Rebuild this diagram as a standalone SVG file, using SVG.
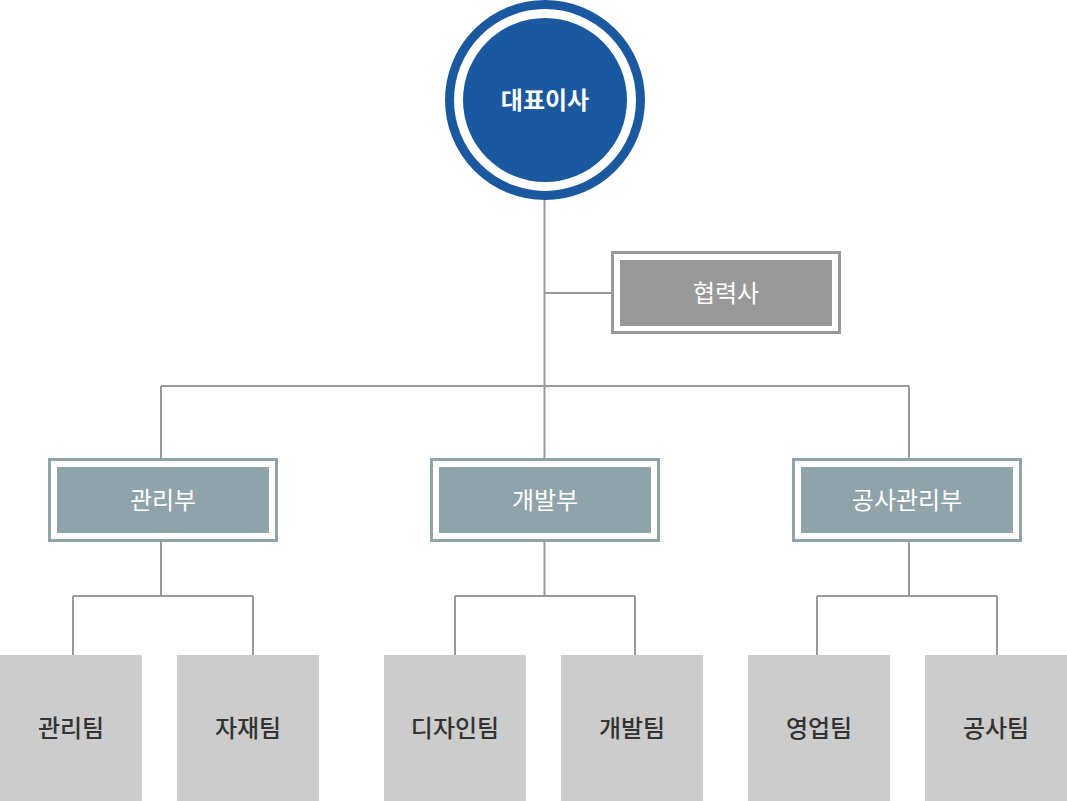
<svg xmlns="http://www.w3.org/2000/svg" width="1067" height="801" viewBox="0 0 1067 801">
<style>
.t{font-family:"Noto Sans CJK KR","Noto Sans",sans-serif;font-size:24px;font-weight:500;text-anchor:middle}
.r{font-weight:400}
.b{font-weight:bold}
.w{fill:#ffffff}
.d{fill:#333333}
.ln{fill:none;stroke:#999999;stroke-width:2}
.dout{fill:#ffffff;stroke:#8fa3aa;stroke-width:3}
.din{fill:#8fa3aa}
.team{fill:#cccccc}
</style>
<rect width="1067" height="801" fill="#ffffff"/>
<g id="connectors">
<path class="ln" d="M544.5 200 V386 M544.5 293 H612 M161 386 H909 M161 386 V459 M544.5 386 V459 M909 386 V459"/>
<path class="ln" d="M161 541 V596 M73 596 H253 M73 596 V655 M253 596 V655"/>
<path class="ln" d="M544.5 541 V596 M455 596 H635 M455 596 V655 M635 596 V655"/>
<path class="ln" d="M909 541 V596 M817 596 H997 M817 596 V655 M997 596 V655"/>
</g>
<g id="ceo">
<circle cx="545" cy="100" r="95.5" fill="#ffffff" stroke="#1a58a0" stroke-width="9"/>
<circle cx="545" cy="100" r="82" fill="#1a58a0"/>
<text class="t b w" x="545" y="109">대표이사</text>
</g>
<g id="partner">
<rect x="612.5" y="252.5" width="227" height="80" fill="#ffffff" stroke="#999999" stroke-width="3"/>
<rect x="620" y="260" width="212" height="66" fill="#999999"/>
<text class="t r w" x="726" y="302">협력사</text>
</g>
<g id="dept-admin">
<rect class="dout" x="49.5" y="459.5" width="227" height="81"/>
<rect class="din" x="57" y="467" width="212" height="66"/>
<text class="t r w" x="163" y="509">관리부</text>
</g>
<g id="dept-dev">
<rect class="dout" x="431.5" y="459.5" width="227" height="81"/>
<rect class="din" x="439" y="467" width="212" height="66"/>
<text class="t r w" x="545" y="509">개발부</text>
</g>
<g id="dept-const">
<rect class="dout" x="793.5" y="459.5" width="227" height="81"/>
<rect class="din" x="801" y="467" width="212" height="66"/>
<text class="t r w" x="907" y="509">공사관리부</text>
</g>
<g id="team-admin">
<rect class="team" x="0" y="655" width="142" height="146"/>
<text class="t d" x="71" y="737">관리팀</text>
</g>
<g id="team-material">
<rect class="team" x="177" y="655" width="142" height="146"/>
<text class="t d" x="248" y="737">자재팀</text>
</g>
<g id="team-design">
<rect class="team" x="384" y="655" width="142" height="146"/>
<text class="t d" x="455" y="737">디자인팀</text>
</g>
<g id="team-dev">
<rect class="team" x="561" y="655" width="142" height="146"/>
<text class="t d" x="632" y="737">개발팀</text>
</g>
<g id="team-sales">
<rect class="team" x="748" y="655" width="142" height="146"/>
<text class="t d" x="819" y="737">영업팀</text>
</g>
<g id="team-const">
<rect class="team" x="925" y="655" width="142" height="146"/>
<text class="t d" x="996" y="737">공사팀</text>
</g>
</svg>
